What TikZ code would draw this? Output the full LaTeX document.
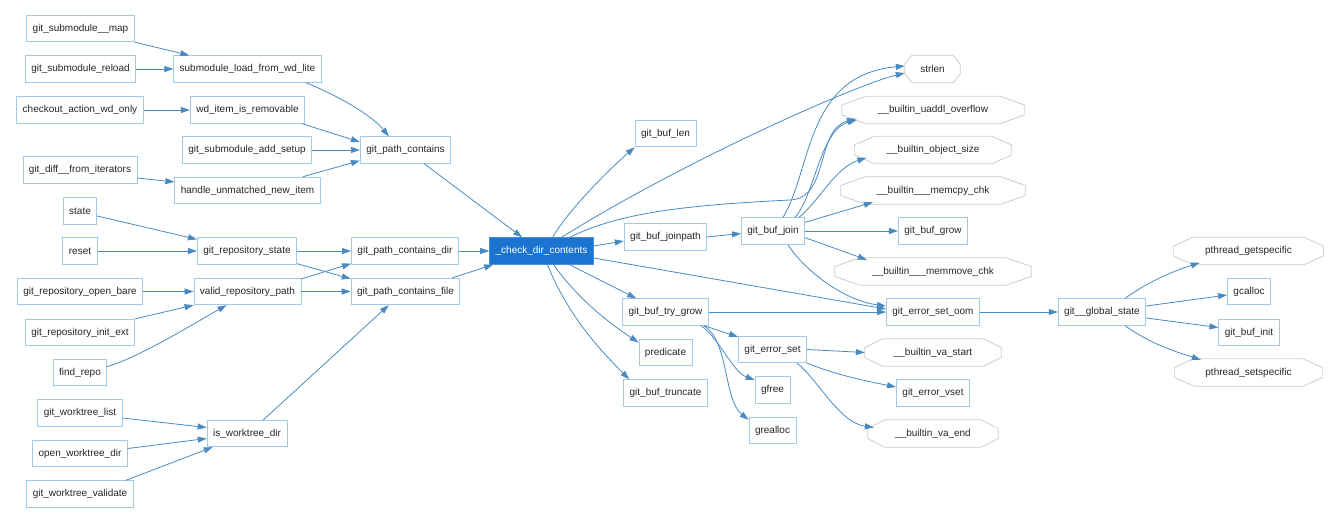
\documentclass[tikz,border=0pt]{standalone}
\usepackage{fontspec}
\setmainfont{Liberation Sans}
\usetikzlibrary{arrows.meta,calc}
\definecolor{boxcol}{RGB}{160,202,232}
\definecolor{edgecol}{RGB}{74,138,192}
\definecolor{hilite}{RGB}{28,116,210}
\definecolor{octcol}{RGB}{204,204,204}
\newcommand\octshape[2]{\draw[octline] ($(#1.north west)+(#2,0)$) -- ($(#1.north east)+(-#2,0)$) -- ($(#1.east)+(0,-5)$) -- ($(#1.east)+(0,5)$) -- ($(#1.south east)+(-#2,0)$) -- ($(#1.south west)+(#2,0)$) -- ($(#1.west)+(0,5)$) -- ($(#1.west)+(0,-5)$) -- cycle;}
\begin{document}
\begin{tikzpicture}[x=1pt,y=-1pt,
  box/.style={draw=boxcol, line width=0.8pt, fill=white, inner xsep=6pt, inner ysep=0pt, minimum height=26.5pt, font=\fontsize{10}{12}\selectfont, text=black!85},
  hibox/.style={box, draw=hilite!80!white, fill=hilite, text=white},
  octnode/.style={inner sep=0pt, minimum height=27pt, font=\fontsize{10}{12}\selectfont, text=black!85},
  octline/.style={draw=octcol, line width=0.8pt},
  edge/.style={draw=edgecol, line width=0.8pt, -{Triangle[length=9pt,width=6pt]}}]
\useasboundingbox (0,0) rectangle (1338,523);
% left column
\node[box] (smmap) at (80.5,28.5) {git\_submodule\_\_map};
\node[box] (smreload) at (80.5,69) {git\_submodule\_reload};
\node[box] (checkout) at (80,110) {checkout\_action\_wd\_only};
\node[box] (gdiff) at (80,170) {git\_diff\_\_from\_iterators};
\node[box] (state) at (80,211) {state};
\node[box] (reset) at (80,251) {reset};
\node[box] (gitrob) at (80,291.5) {git\_repository\_open\_bare};
\node[box] (ginit) at (80,332.5) {git\_repository\_init\_ext};
\node[box] (findrepo) at (80,372.5) {find\_repo};
\node[box] (wtlist) at (80,413) {git\_worktree\_list};
\node[box] (owd) at (80,453.5) {open\_worktree\_dir};
\node[box] (wtval) at (80,494) {git\_worktree\_validate};
% second column
\node[box] (subload) at (247.5,69) {submodule\_load\_from\_wd\_lite};
\node[box] (wdrem) at (247.5,110) {wd\_item\_is\_removable};
\node[box] (gsas) at (247,150) {git\_submodule\_add\_setup};
\node[box] (handle) at (247.5,190.5) {handle\_unmatched\_new\_item};
\node[box] (grs) at (247,251) {git\_repository\_state};
\node[box] (vrp) at (247.5,291.5) {valid\_repository\_path};
\node[box] (iswt) at (247,433.5) {is\_worktree\_dir};
% third column
\node[box] (gpc) at (405.5,150) {git\_path\_contains};
\node[box] (gpcd) at (405,251) {git\_path\_contains\_dir};
\node[box] (gpcf) at (405.5,291.5) {git\_path\_contains\_file};
% main
\node[hibox] (check) at (541.5,251) {\_check\_dir\_contents};
% fifth column
\node[box] (buflen) at (665.5,133.5) {git\_buf\_len};
\node[box] (joinpath) at (665.5,237) {git\_buf\_joinpath};
\node[box] (trygrow) at (665.5,312) {git\_buf\_try\_grow};
\node[box] (predicate) at (665.5,352.5) {predicate};
\node[box] (truncate) at (665.5,393) {git\_buf\_truncate};
% sixth column
\node[box] (bufjoin) at (773,231) {git\_buf\_join};
\node[box] (errset) at (772.5,349.5) {git\_error\_set};
\node[box] (gfree) at (772.5,390) {gfree};
\node[box] (grealloc) at (772.5,430.5) {grealloc};
% seventh column
\node[octnode, minimum width=55pt] (strlen) at (932.5,69) {strlen};
\node[octnode, minimum width=182pt] (uaddl) at (933,110) {\_\_builtin\_uaddl\_overflow};
\node[octnode, minimum width=157pt] (objsize) at (933,150) {\_\_builtin\_object\_size};
\node[octnode, minimum width=184pt] (memcpy) at (933,190.5) {\_\_builtin\_\_\_memcpy\_chk};
\node[box] (bufgrow) at (933,231) {git\_buf\_grow};
\node[octnode, minimum width=196pt] (memmove) at (933,271.5) {\_\_builtin\_\_\_memmove\_chk};
\node[box] (seterroom) at (933,312) {git\_error\_set\_oom};
\node[octnode, minimum width=136pt] (vastart) at (933,352.5) {\_\_builtin\_va\_start};
\node[box] (vset) at (933,393) {git\_error\_vset};
\node[octnode, minimum width=130pt] (vaend) at (933,433.5) {\_\_builtin\_va\_end};
% right
\node[box] (gstate) at (1102,312) {git\_\_global\_state};
\node[octnode, minimum width=149pt] (pget) at (1248.5,251) {pthread\_getspecific};
\node[box] (gcalloc) at (1249,291.5) {gcalloc};
\node[box] (bufinit) at (1249,332.5) {git\_buf\_init};
\node[octnode, minimum width=147pt] (pset) at (1248.5,372.5) {pthread\_setspecific};
\octshape{strlen}{7}
\octshape{uaddl}{24}
\octshape{objsize}{20}
\octshape{memcpy}{24}
\octshape{memmove}{25}
\octshape{vastart}{18}
\octshape{vaend}{17}
\octshape{pget}{19}
\octshape{pset}{19}
% edges: left part
\draw[edge] (smmap.south east) -- ($(subload.north west)+(16,0)$);
\draw[edge] (smreload.east) -- (subload.west);
\draw[edge] ($(subload.south east)+(-16,0)$) .. controls +(30,12) and +(-18,-22) .. ($(gpc.north west)+(29,0)$);
\draw[edge] (checkout.east) -- (wdrem.west);
\draw[edge] ($(wdrem.south east)+(-3,0)$) -- ($(gpc.west)+(0,-8)$);
\draw[edge] (gsas.east) -- (gpc.west);
\draw[edge] ($(gdiff.east)+(0,8)$) -- ($(handle.west)+(0,-8.5)$);
\draw[edge] ($(handle.north east)+(-18,0)$) -- ($(gpc.south west)+(0,-3)$);
\draw[edge] ($(gpc.south east)+(-27,0)$) -- ($(check.north west)+(33,0)$);
\draw[edge] ($(state.east)+(0,5)$) -- ($(grs.north west)+(0,2)$);
\draw[edge] (reset.east) -- (grs.west);
\draw[edge] (grs.east) -- (gpcd.west);
\draw[edge] ($(grs.south east)+(0,-1)$) -- ($(gpcf.north west)+(0,1)$);
\draw[edge] ($(vrp.north east)+(0,1)$) -- ($(gpcd.south west)+(0,-1)$);
\draw[edge] (vrp.east) -- (gpcf.west);
\draw[edge] (gpcd.east) -- (check.west);
\draw[edge] ($(gpcf.north east)+(-8,0)$) -- ($(check.south west)+(4,0)$);
\draw[edge] (gitrob.east) -- (vrp.west);
\draw[edge] (ginit.north east) -- (vrp.south west);
\draw[edge] ($(findrepo.east)+(0,-6)$) .. controls +(30,-8) and +(-25,14) .. ($(vrp.south west)+(33,0)$);
\draw[edge] ($(wtlist.east)+(0,5)$) -- ($(iswt.west)+(0,-6)$);
\draw[edge] ($(owd.east)+(0,-5)$) -- ($(iswt.west)+(0,5)$);
\draw[edge] ($(wtval.north east)+(-8,0)$) -- ($(iswt.south west)+(6,0)$);
\draw[edge] ($(iswt.north east)+(-24,0)$) -- ($(gpcf.south west)+(38,0)$);
% edges: center
\draw[edge] ($(check.north)+(11,0)$) .. controls +(18,-30) and +(-25,22) .. (buflen.south west);
\draw[edge] ($(check.north)+(20,0)$) .. controls +(120,-75) and +(-50,12) .. ($(strlen.west)+(0,4)$);
\draw[edge] ($(check.north east)+(-24,0)$) .. controls (620,212) and (690,205) .. (790,200) .. controls (830,198) and (815,130) .. ($(uaddl.south west)+(14,-5)$);
\draw[edge] ($(check.east)+(0,-5)$) -- ($(joinpath.west)+(0,4)$);
\draw[edge] ($(check.east)+(0,7)$) -- ($(seterroom.west)+(0,-3)$);
\draw[edge] ($(check.south)+(28,0)$) -- ($(trygrow.north west)+(14,0)$);
\draw[edge] ($(check.south)+(12,0)$) .. controls +(25,35) and +(-30,-20) .. ($(predicate.west)+(0,-10)$);
\draw[edge] ($(check.south)+(6,0)$) .. controls +(20,50) and +(-30,-30) .. ($(truncate.north west)+(6,0)$);
\draw[edge] (joinpath.east) -- ($(bufjoin.west)+(0,2.5)$);
% edges: git_buf_join
\draw[edge] ($(bufjoin.north)+(10,0)$) .. controls (812,170) and (805,75) .. ($(strlen.west)+(0,-3)$);
\draw[edge] ($(bufjoin.north east)+(-10,0)$) .. controls (815,195) and (820,130) .. ($(uaddl.south west)+(15,-4)$);
\draw[edge] ($(bufjoin.north east)+(-6,0)$) .. controls (820,200) and (835,168) .. ($(objsize.south west)+(12,-6)$);
\draw[edge] ($(bufjoin.north east)+(0,5)$) -- ($(memcpy.south west)+(32,-2)$);
\draw[edge] (bufjoin.east) -- (bufgrow.west);
\draw[edge] ($(bufjoin.south east)+(0,-7)$) -- ($(memmove.north west)+(32,2)$);
\draw[edge] ($(bufjoin.south)+(15,0)$) .. controls (800,265) and (840,300) .. ($(seterroom.west)+(0,-6)$);
% edges: try_grow, error_set
\draw[edge] (trygrow.east) -- (seterroom.west);
\draw[edge] ($(trygrow.south east)+(-5,0)$) -- ($(errset.north west)+(0,1)$);
\draw[edge] ($(trygrow.south east)+(-8,0)$) .. controls +(18,12) and +(-22,-8) .. ($(gfree.west)+(0,-10)$);
\draw[edge] ($(trygrow.south east)+(-5,0)$) .. controls +(25,15) and +(-25,-20) .. ($(grealloc.north west)+(0,3)$);
\draw[edge] (errset.east) -- (vastart.west);
\draw[edge] (errset.south east) .. controls +(30,12) and +(-30,-6) .. ($(vset.west)+(0,-6)$);
\draw[edge] ($(errset.south east)+(-10,0)$) .. controls +(20,15) and +(-35,-5) .. ($(vaend.west)+(6,-6)$);
% edges: global state
\draw[edge] (seterroom.east) -- (gstate.west);
\draw[edge] ($(gstate.north)+(23,0)$) .. controls +(25,-18) and +(-25,8) .. ($(pget.south west)+(26,-2)$);
\draw[edge] ($(gstate.east)+(0,-6)$) -- ($(gcalloc.west)+(0,3.5)$);
\draw[edge] ($(gstate.east)+(0,6)$) -- ($(bufinit.west)+(0,-5)$);
\draw[edge] ($(gstate.south)+(23,0)$) .. controls +(25,18) and +(-25,-8) .. ($(pset.north west)+(26,1)$);
\end{tikzpicture}
\end{document}
